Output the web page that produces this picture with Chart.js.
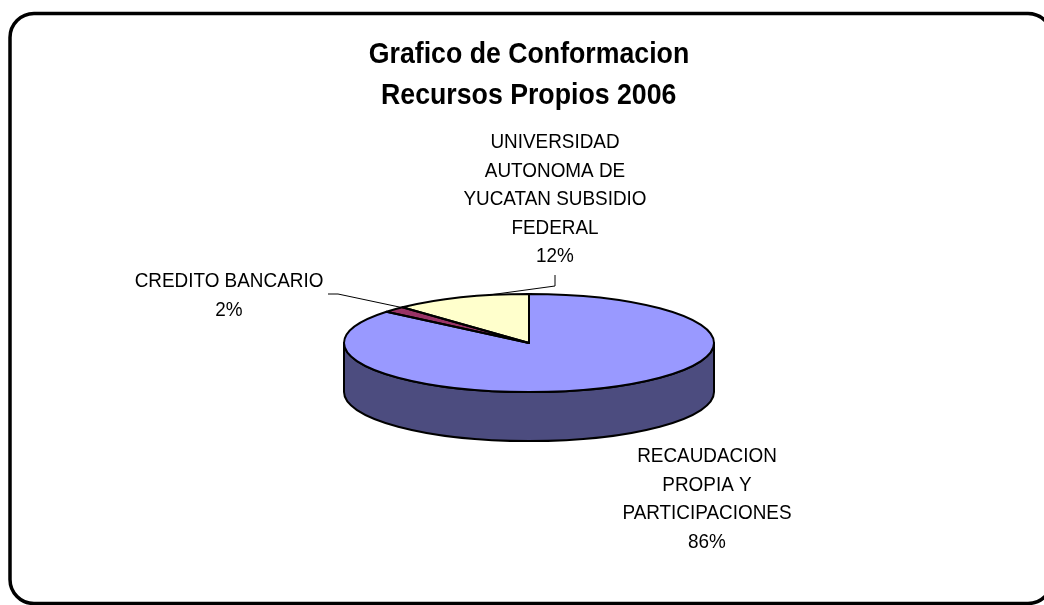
<!DOCTYPE html>
<html>
<head>
<meta charset="utf-8">
<title>Grafico de Conformacion Recursos Propios 2006</title>
<script src="https://cdn.jsdelivr.net/npm/chart.js@4"></script>
<style>
  html, body { margin: 0; padding: 0; background: #ffffff; }
  #chart { display: block; }
</style>
</head>
<body>
<canvas id="chart" width="1044" height="605"></canvas>
<script>
const titleLines = ["Grafico de Conformacion", " Recursos Propios 2006"];
const categories = [
  ["RECAUDACION", "PROPIA Y", "PARTICIPACIONES"],
  ["CREDITO BANCARIO"],
  ["UNIVERSIDAD", "AUTONOMA DE", "YUCATAN SUBSIDIO", "FEDERAL"]
];
const values = [86, 2, 12];
const topColors = ["#9999FF", "#993366", "#FFFFCC"];
const sideColors = ["#4C4C7F", "#4C1933", "#7F7F66"];

// layout (pixels), not data
const SQUASH = 0.265;
const DEPTH = 49;
const labelFont = "21px 'Liberation Sans', Arial, sans-serif";
const titleFont = "bold 30px 'Liberation Sans', Arial, sans-serif";
const labelLine = 28.6;
// where each label block sits, its first baseline, and where its leader meets the slice
const labelSpots = [
  { x: 707, y: 462, leader: null },
  { x: 229, y: 287, leader: { frac: 0.95, path: [[328, 294], [338, 294]] } },
  { x: 555, y: 148, leader: { frac: 0.70, path: [[555, 275], [555, 286]] } }
];

function total() {
  return values.reduce((a, b) => a + b, 0);
}

// text drawn a little narrower than tall, like the original export
function narrowText(ctx, text, x, y, sx) {
  ctx.save();
  ctx.translate(x, y);
  ctx.scale(sx, 1);
  ctx.fillText(text, 0, 0);
  ctx.restore();
}

const pie3d = {
  id: "pie3d",
  beforeDraw(chart) {
    const ctx = chart.ctx;
    // rounded frame
    ctx.save();
    ctx.strokeStyle = "#000000";
    ctx.lineWidth = 3.5;
    ctx.beginPath();
    ctx.roundRect(10, 13.5, 1042, 590, 24);
    ctx.stroke();

    // title
    ctx.fillStyle = "#000000";
    ctx.font = titleFont;
    ctx.textAlign = "center";
    ctx.textBaseline = "alphabetic";
    narrowText(ctx, titleLines[0], 529, 63, 0.89);
    narrowText(ctx, titleLines[1], 525, 104, 0.89);
    ctx.restore();
  },
  beforeDatasetsDraw(chart) {
    const ctx = chart.ctx;
    const arcs = chart.getDatasetMeta(0).data;
    const cx = arcs[0].x, cy = arcs[0].y;
    const rx = arcs[0].outerRadius, ry = rx * SQUASH;

    // side walls for the front half of the pie
    arcs.forEach((arc, i) => {
      const s = arc.startAngle, e = arc.endAngle;
      for (let off = -2 * Math.PI; off <= 2 * Math.PI; off += 2 * Math.PI) {
        const a = Math.max(s, off), b = Math.min(e, off + Math.PI);
        if (b <= a) continue;
        ctx.save();
        ctx.beginPath();
        ctx.ellipse(cx, cy, rx, ry, 0, a, b);
        ctx.ellipse(cx, cy + DEPTH, rx, ry, 0, b, a, true);
        ctx.closePath();
        ctx.fillStyle = sideColors[i];
        ctx.fill();
        ctx.strokeStyle = "#000000";
        ctx.lineWidth = 2;
        ctx.lineJoin = "round";
        ctx.stroke();
        ctx.restore();
      }
    });

    // squash the top face
    ctx.save();
    ctx.translate(cx, cy);
    ctx.scale(1, SQUASH);
    ctx.translate(-cx, -cy);
  },
  afterDatasetsDraw(chart) {
    const ctx = chart.ctx;
    ctx.restore();

    const arcs = chart.getDatasetMeta(0).data;
    const cx = arcs[0].x, cy = arcs[0].y;
    const rx = arcs[0].outerRadius, ry = rx * SQUASH;

    // slice outlines on the top face
    ctx.save();
    ctx.strokeStyle = "#000000";
    ctx.lineWidth = 2;
    ctx.lineJoin = "round";
    arcs.forEach((arc) => {
      ctx.beginPath();
      ctx.moveTo(cx, cy);
      ctx.ellipse(cx, cy, rx, ry, 0, arc.startAngle, arc.endAngle);
      ctx.closePath();
      ctx.stroke();
    });
    ctx.restore();

    // labels and leader lines
    const sum = total();
    ctx.save();
    ctx.font = labelFont;
    ctx.fillStyle = "#000000";
    ctx.textAlign = "center";
    ctx.textBaseline = "alphabetic";
    arcs.forEach((arc, i) => {
      const spot = labelSpots[i];
      const lines = categories[i].concat([Math.round(values[i] / sum * 100) + "%"]);
      lines.forEach((line, j) => {
        narrowText(ctx, line, spot.x, spot.y + j * labelLine, 0.9);
      });
      if (spot.leader) {
        const ang = arc.startAngle + spot.leader.frac * (arc.endAngle - arc.startAngle);
        const px = cx + rx * Math.cos(ang);
        const py = cy + ry * Math.sin(ang);
        ctx.beginPath();
        ctx.strokeStyle = "#000000";
        ctx.lineWidth = 1;
        spot.leader.path.forEach((p, k) => {
          if (k === 0) ctx.moveTo(p[0], p[1]);
          else ctx.lineTo(p[0], p[1]);
        });
        ctx.lineTo(px, py);
        ctx.stroke();
      }
    });
    ctx.restore();
  }
};

const chart = new Chart(document.getElementById("chart"), {
  type: "pie",
  data: {
    labels: categories,
    datasets: [
      {
        data: values,
        backgroundColor: topColors,
        borderWidth: 0,
        hoverOffset: 0,
        offset: 0
      }
    ]
  },
  options: {
    responsive: false,
    animation: false,
    events: [],
    layout: {
      padding: { left: 344, right: 330, top: 158, bottom: 77 }
    },
    plugins: {
      legend: { display: false },
      tooltip: { enabled: false },
      title: { display: false }
    }
  },
  plugins: [pie3d]
});
</script>
</body>
</html>
